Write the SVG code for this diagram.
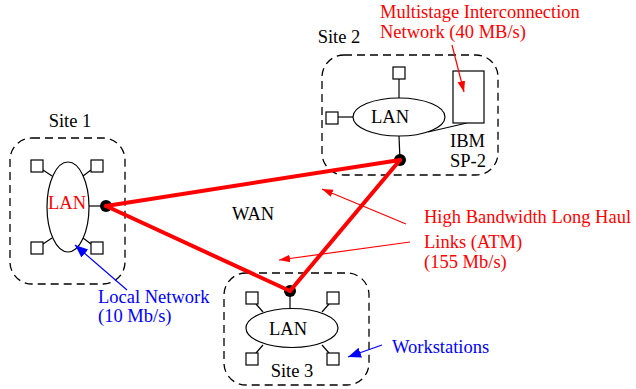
<svg xmlns="http://www.w3.org/2000/svg" width="636" height="389" viewBox="0 0 636 389">
<style>
.site{fill:none;stroke:#000;stroke-width:1.3;stroke-dasharray:8,5}
.ln{fill:none;stroke:#000;stroke-width:1.2}
.ws{fill:#fff;stroke:#000;stroke-width:1.2}
.dot{fill:#000}
.wan{stroke:#f00;stroke-width:4;fill:none;stroke-linecap:round}
.ra{stroke:#f00;stroke-width:1.2;fill:none}
.ba{stroke:#00f;stroke-width:1.2;fill:none}
text{font-family:"Liberation Serif","Times New Roman",serif;font-size:18.5px}
.k{fill:#000}.r{fill:#f00}.b{fill:#00f}
</style>
<defs>
<marker id="ar" viewBox="0 0 10 10" refX="10" refY="5" markerWidth="11" markerHeight="11" markerUnits="userSpaceOnUse" orient="auto"><path d="M0,1.5 L10,5 L0,8.5 Z" fill="#f00"/></marker>
<marker id="ab" viewBox="0 0 10 10" refX="10" refY="5" markerWidth="13" markerHeight="13" markerUnits="userSpaceOnUse" orient="auto"><path d="M0,1 L10,5 L0,9 Z" fill="#00f"/></marker>
</defs>

<g id="site1">
<rect class="site" x="10" y="138" width="115" height="146" rx="22"/>
<text class="k" x="70" y="127" text-anchor="middle">Site 1</text>
<line class="ln" x1="43" y1="170" x2="52" y2="176"/>
<line class="ln" x1="91" y1="170" x2="83" y2="176"/>
<line class="ln" x1="43" y1="244" x2="52" y2="238"/>
<line class="ln" x1="91" y1="244" x2="83" y2="238"/>
<line class="ln" x1="89" y1="206" x2="106" y2="206"/>
<ellipse class="ln" cx="68" cy="207" rx="21" ry="45"/>
<rect class="ws" x="31" y="160" width="12" height="12"/>
<rect class="ws" x="91" y="160" width="12" height="12"/>
<rect class="ws" x="31" y="242" width="12" height="12"/>
<rect class="ws" x="91" y="242" width="12" height="12"/>
<text class="r" x="67" y="209" text-anchor="middle" font-size="19">LAN</text>
<circle class="dot" cx="106" cy="206" r="6"/>
</g>

<g id="site2">
<rect class="site" x="322" y="55" width="176" height="120" rx="22"/>
<text class="k" x="339" y="43" text-anchor="middle">Site 2</text>
<line class="ln" x1="399" y1="79" x2="399" y2="98"/>
<line class="ln" x1="338" y1="117" x2="353" y2="117"/>
<line class="ln" x1="428" y1="132" x2="467" y2="123"/>
<line class="ln" x1="399" y1="136" x2="400" y2="160"/>
<ellipse class="ln" cx="399" cy="117" rx="46" ry="19"/>
<rect class="ws" x="393" y="67" width="12" height="12"/>
<rect class="ws" x="326" y="112" width="12" height="12"/>
<rect class="ws" x="453" y="71" width="31" height="52"/>
<text class="k" x="390" y="123" text-anchor="middle" font-size="16.5">LAN</text>
<text class="k" x="450" y="147">IBM</text>
<text class="k" x="450" y="167">SP-2</text>
<circle class="dot" cx="400" cy="160" r="6"/>
</g>

<g id="site3">
<rect class="site" x="224" y="273" width="145" height="112" rx="22"/>
<line class="ln" x1="256" y1="304" x2="263" y2="312"/>
<line class="ln" x1="329" y1="304" x2="322" y2="312"/>
<line class="ln" x1="256" y1="353" x2="263" y2="345"/>
<line class="ln" x1="329" y1="353" x2="322" y2="345"/>
<line class="ln" x1="290" y1="291" x2="290" y2="309"/>
<ellipse class="ln" cx="292" cy="328" rx="46" ry="19.5"/>
<rect class="ws" x="246" y="292" width="12" height="12"/>
<rect class="ws" x="327" y="292" width="12" height="12"/>
<rect class="ws" x="246" y="353" width="12" height="12"/>
<rect class="ws" x="327" y="353" width="12" height="12"/>
<text class="k" x="288" y="335" text-anchor="middle" font-size="16.5">LAN</text>
<text class="k" x="292" y="377" text-anchor="middle">Site 3</text>
<circle class="dot" cx="290" cy="291" r="6"/>
</g>

<g id="connectors">
<line class="wan" x1="106" y1="206" x2="400" y2="160"/>
<line class="wan" x1="106" y1="206" x2="290" y2="291"/>
<line class="wan" x1="290" y1="291" x2="400" y2="160"/>
<line class="ra" x1="406" y1="224" x2="322" y2="189" marker-end="url(#ar)"/>
<line class="ra" x1="410" y1="242" x2="279" y2="260" marker-end="url(#ar)"/>
<line class="ra" x1="452" y1="45" x2="464" y2="92" marker-end="url(#ar)"/>
<line class="ba" x1="127" y1="290" x2="75" y2="245" marker-end="url(#ab)"/>
<line class="ba" x1="382" y1="345" x2="348" y2="357" marker-end="url(#ab)"/>
</g>

<g id="labels">
<text class="k" x="232" y="220" font-size="21">WAN</text>
<text class="r" x="380" y="18">Multistage Interconnection</text>
<text class="r" x="380" y="38">Network (40 MB/s)</text>
<text class="r" x="424" y="223">High Bandwidth Long Haul</text>
<text class="r" x="424" y="248" font-size="18">Links (ATM)</text>
<text class="r" x="424" y="268" font-size="18">(155 Mb/s)</text>
<text class="b" x="98" y="303" font-size="18">Local Network</text>
<text class="b" x="98" y="322" font-size="18">(10 Mb/s)</text>
<text class="b" x="392" y="353">Workstations</text>
</g>
</svg>
